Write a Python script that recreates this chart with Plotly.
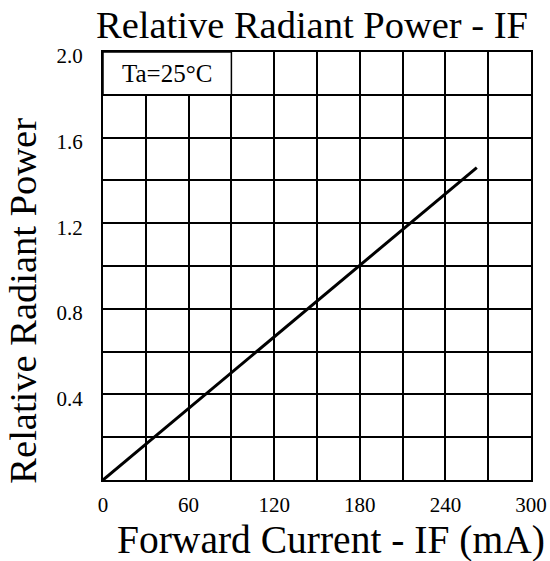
import plotly.graph_objects as go

# forward current (mA) vs relative radiant power
current = [0, 262]
power = [0, 1.46]

x_ticks = [0, 60, 120, 180, 240, 300]
x_labels = ["0", "60", "120", "180", "240", "300"]
y_ticks = [0.4, 0.8, 1.2, 1.6, 2.0]
y_labels = ["0.4", "0.8", "1.2", "1.6", "2.0"]

FONT = "Liberation Serif"
grid = dict(showgrid=True, gridcolor="black", gridwidth=1.5)

fig = go.Figure()
fig.add_trace(go.Scatter(x=current, y=power, mode="lines",
                         line=dict(color="black", width=3), showlegend=False,
                         hoverinfo="skip"))

fig.update_xaxes(range=[0, 300], tickvals=x_ticks, ticktext=x_labels, **grid,
                 minor=dict(tick0=0, dtick=30, **grid),
                 showline=True, mirror=True, linecolor="black", linewidth=2,
                 zeroline=False, ticks="", ticklabelstandoff=5, automargin=False,
                 tickfont=dict(family=FONT, size=21, color="black"))
fig.update_yaxes(range=[0, 2.0], tickvals=y_ticks, ticktext=y_labels, **grid,
                 minor=dict(tick0=0, dtick=0.2, **grid),
                 showline=True, mirror=True, linecolor="black", linewidth=2,
                 zeroline=False, ticks="", ticklabelstandoff=14, ticklabelshift=4,
                 automargin=False,
                 tickfont=dict(family=FONT, size=21, color="black"))

# legend box in the top-left corner
fig.add_shape(type="rect", xref="x", yref="y", x0=0, x1=90, y0=1.8, y1=2.0,
              fillcolor="white", line=dict(color="black", width=1.5), layer="above")
fig.add_annotation(x=45, y=1.9, xref="x", yref="y", text="Ta=25°C", showarrow=False,
                   font=dict(family=FONT, size=25, color="black"))

fig.add_annotation(x=0.488, y=1.0, xref="paper", yref="paper",
                   xanchor="center", yanchor="bottom", yshift=4,
                   text="Relative Radiant Power - IF", showarrow=False,
                   font=dict(family=FONT, size=38.5, color="black"))
fig.add_annotation(x=0.532, y=-0.14, xref="paper", yref="paper",
                   xanchor="center", yanchor="middle",
                   text="Forward Current - IF (mA)", showarrow=False,
                   font=dict(family=FONT, size=39.5, color="black"))
fig.add_annotation(x=-0.186, y=0.42, xref="paper", yref="paper", textangle=-90,
                   xanchor="center", yanchor="middle",
                   text="Relative Radiant Power", showarrow=False,
                   font=dict(family=FONT, size=38.5, color="black"))

fig.update_layout(width=550, height=561, margin=dict(l=103, r=19, t=52, b=81),
                  plot_bgcolor="white", paper_bgcolor="white")

fig.write_html("out.html", config={"displayModeBar": False},
               post_script="document.body.style.margin='0';")
